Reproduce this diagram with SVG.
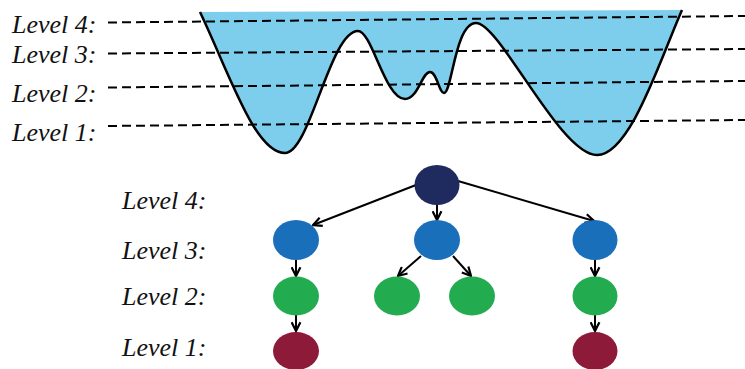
<svg xmlns="http://www.w3.org/2000/svg" width="745" height="369" viewBox="0 0 745 369">
<style>
.lbl{font-family:"Liberation Serif","Times New Roman",serif;font-style:italic;font-size:26px;fill:#111}
.dash{stroke:#000;stroke-width:2;stroke-dasharray:9 5;fill:none}
.edge{stroke:#000;stroke-width:2;fill:none;marker-end:url(#arr)}
.n4{fill:#1f2a5e}.n3{fill:#1a6fba}.n2{fill:#23ab4f}.n1{fill:#8e1a3a}
</style>
<defs>
<marker id="arr" markerUnits="userSpaceOnUse" viewBox="0 0 10 10" refX="9" refY="5" markerWidth="11" markerHeight="11" orient="auto">
<path d="M1,1 L9,5 L1,9" fill="none" stroke="#000" stroke-width="2"/>
</marker>
</defs>
<rect width="745" height="369" fill="#fff"/>
<g id="terrain">
<path d="M200,12 C230,75 255,153 285,153 C310,153 330,31 358,31 C372,31 385,99 405,99 C418,99 422,72 430,72 C437,72 439,93 444,93 C452,93 455,23 476,23 C500,23 560,155 597,155 C630,155 660,60 682,10 Z" fill="#7dcdec"/>
<path d="M200,12 C230,75 255,153 285,153 C310,153 330,31 358,31 C372,31 385,99 405,99 C418,99 422,72 430,72 C437,72 439,93 444,93 C452,93 455,23 476,23 C500,23 560,155 597,155 C630,155 660,60 682,10" fill="none" stroke="#000" stroke-width="2.5"/>
</g>
<g id="levels-top">
<line class="dash" x1="108" y1="22.5" x2="745" y2="16"/>
<line class="dash" x1="108" y1="53.5" x2="745" y2="49"/>
<line class="dash" x1="108" y1="87.5" x2="745" y2="81"/>
<line class="dash" x1="108" y1="126" x2="745" y2="120"/>
<text class="lbl" x="12" y="33">Level 4:</text>
<text class="lbl" x="12" y="63">Level 3:</text>
<text class="lbl" x="12" y="102">Level 2:</text>
<text class="lbl" x="12" y="141">Level 1:</text>
</g>
<g id="levels-bottom">
<text class="lbl" x="122" y="209">Level 4:</text>
<text class="lbl" x="122" y="259">Level 3:</text>
<text class="lbl" x="122" y="305">Level 2:</text>
<text class="lbl" x="122" y="356">Level 1:</text>
</g>
<g id="connectors">
<line class="edge" x1="416" y1="185" x2="313" y2="225"/>
<line class="edge" x1="437" y1="205" x2="437" y2="220"/>
<line class="edge" x1="458" y1="181" x2="594" y2="221"/>
<line class="edge" x1="296" y1="260" x2="296" y2="276"/>
<line class="edge" x1="296" y1="315" x2="296" y2="331"/>
<line class="edge" x1="421" y1="256" x2="398" y2="276"/>
<line class="edge" x1="453" y1="256" x2="471" y2="276"/>
<line class="edge" x1="595" y1="260" x2="595" y2="276"/>
<line class="edge" x1="595" y1="315" x2="595" y2="331"/>
</g>
<g id="root"><ellipse class="n4" cx="437" cy="185" rx="22.5" ry="20"/></g>
<g id="b-left"><ellipse class="n3" cx="296" cy="240" rx="23" ry="20"/></g>
<g id="b-mid"><ellipse class="n3" cx="437" cy="240" rx="23" ry="20"/></g>
<g id="b-right"><ellipse class="n3" cx="595" cy="240" rx="22.5" ry="20"/></g>
<g id="g-left"><ellipse class="n2" cx="296" cy="296" rx="23" ry="19.5"/></g>
<g id="g-mid1"><ellipse class="n2" cx="397" cy="296" rx="23" ry="19.5"/></g>
<g id="g-mid2"><ellipse class="n2" cx="472" cy="296" rx="23" ry="19.5"/></g>
<g id="g-right"><ellipse class="n2" cx="595" cy="296" rx="22.5" ry="19.5"/></g>
<g id="r-left"><ellipse class="n1" cx="296" cy="351" rx="23" ry="19"/></g>
<g id="r-right"><ellipse class="n1" cx="595" cy="351" rx="22.5" ry="19"/></g>
</svg>
